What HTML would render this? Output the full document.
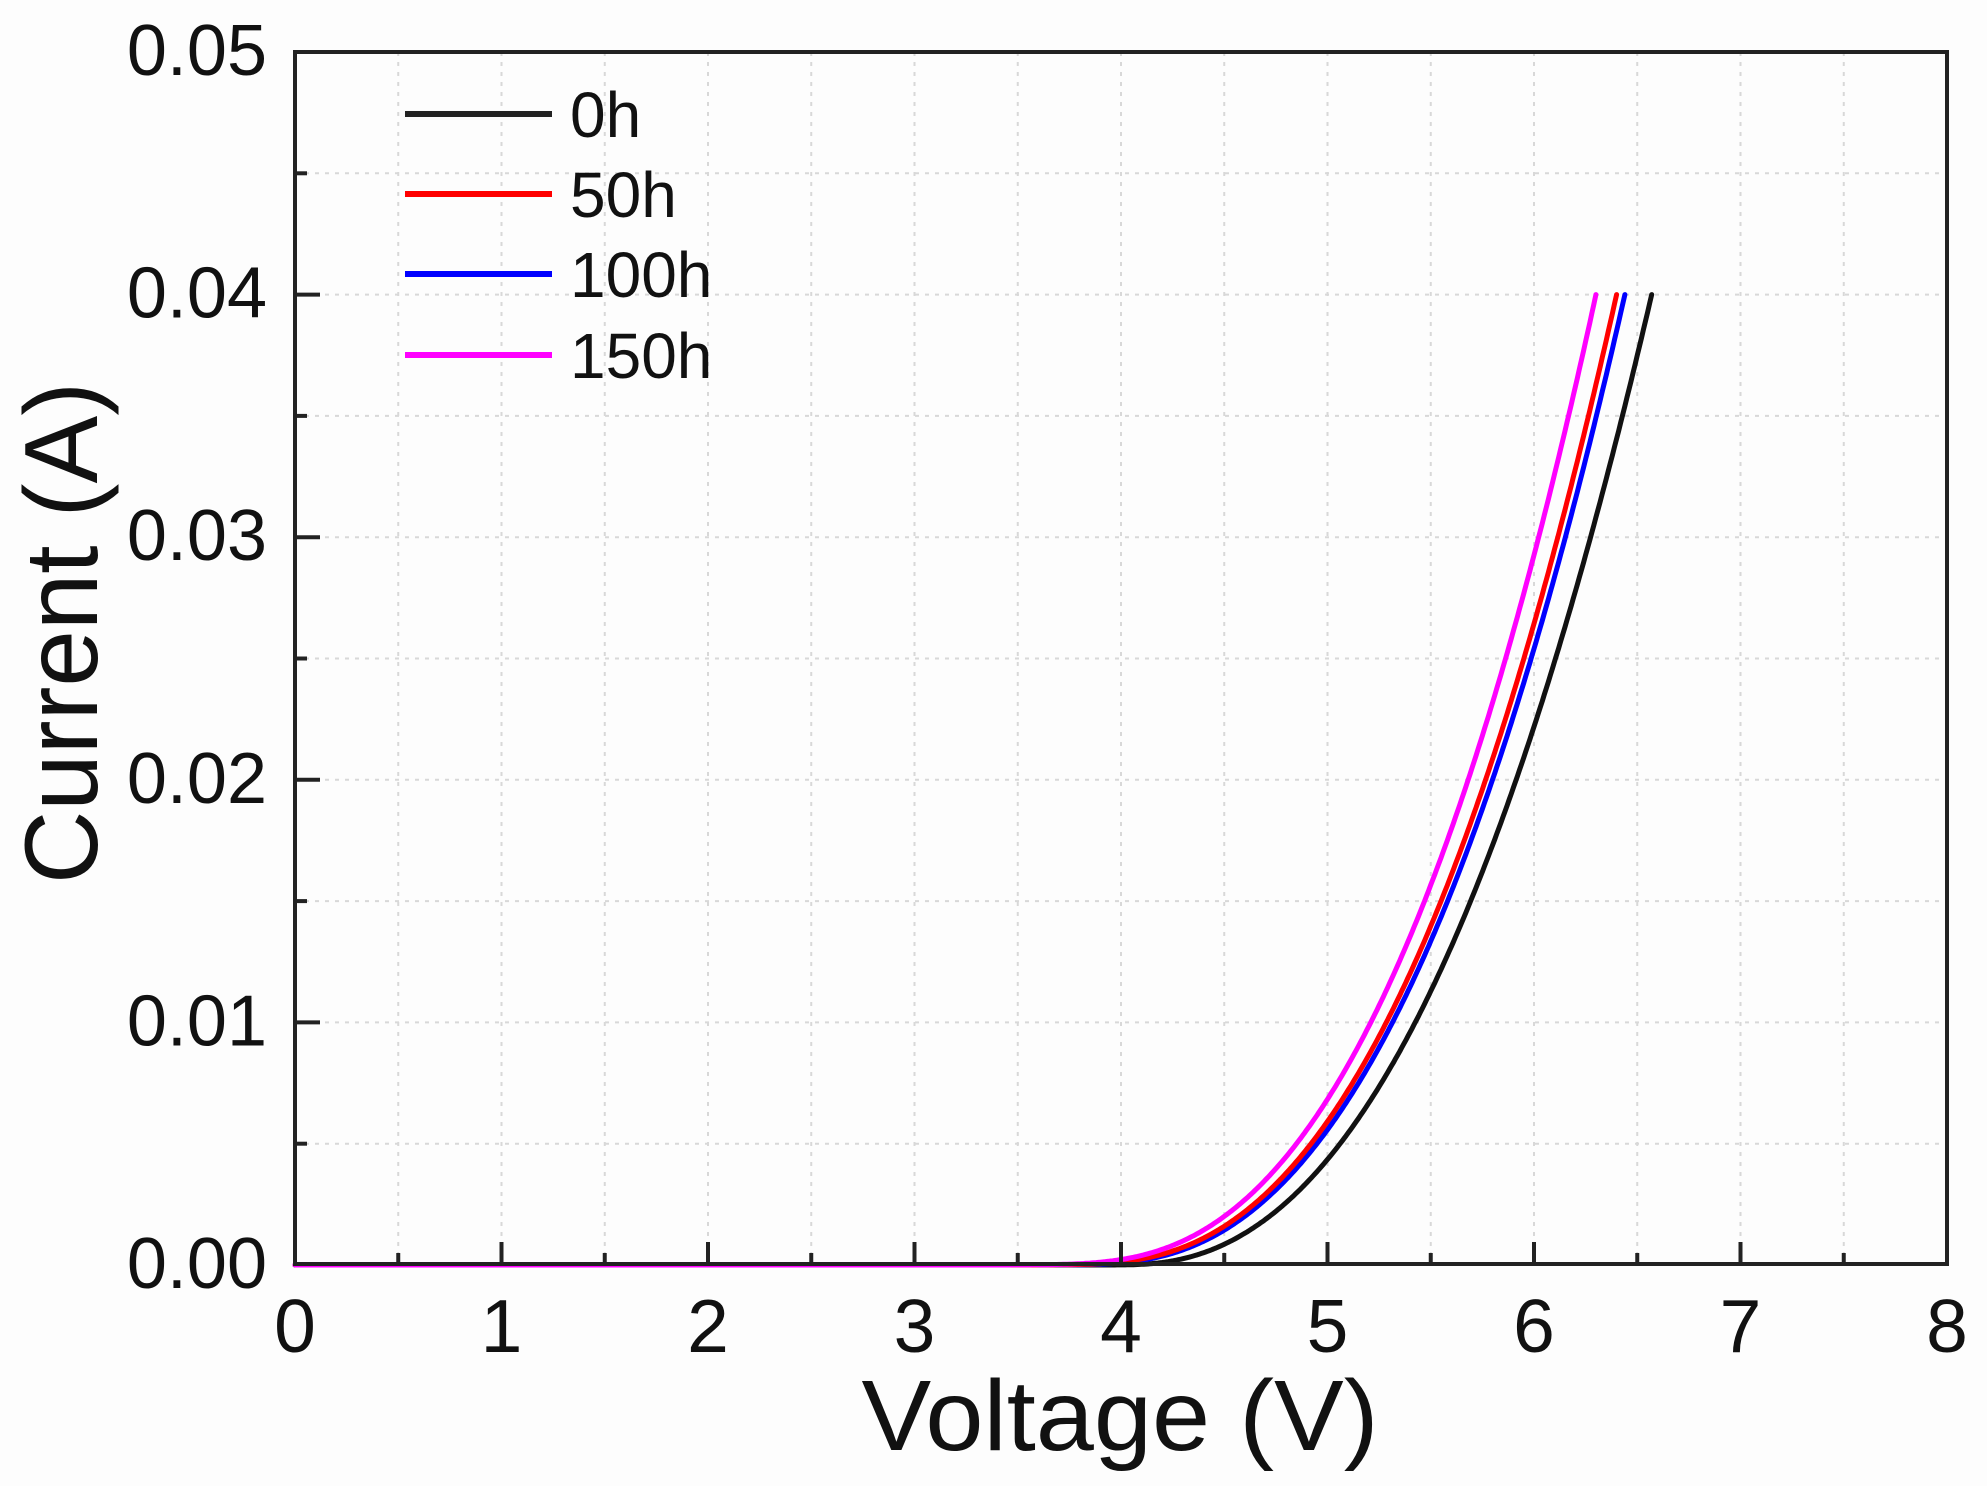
<!DOCTYPE html>
<html><head><meta charset="utf-8"><style>
html,body{margin:0;padding:0;background:#fdfdfd;}
svg{display:block;}
text{font-family:"Liberation Sans",sans-serif;fill:#111;}
</style></head><body>
<svg id="s" width="1987" height="1486" viewBox="0 0 1987 1486" xmlns="http://www.w3.org/2000/svg">
<rect width="1987" height="1486" fill="#fdfdfd"/>
<g id="grid" stroke="#d8d8d8" stroke-width="2" stroke-dasharray="4,6"></g>
<g id="curves" fill="none" stroke-width="5" stroke-linejoin="round" stroke-linecap="round"></g>
<g id="ticks" stroke="#222" stroke-width="4"></g>
<rect x="295" y="52" width="1652" height="1212" fill="none" stroke="#222" stroke-width="4"/>
<g id="labels"></g>
<g stroke-width="6">
<line x1="405" y1="114" x2="552" y2="114" stroke="#222"/>
<line x1="405" y1="194" x2="552" y2="194" stroke="#ff0000"/>
<line x1="405" y1="274" x2="552" y2="274" stroke="#0000ff"/>
<line x1="405" y1="355" x2="552" y2="355" stroke="#ff00ff"/>
</g>
<g font-size="64">
<text x="570" y="137">0h</text>
<text x="570" y="217">50h</text>
<text x="570" y="297">100h</text>
<text x="570" y="378">150h</text>
</g>
<text x="1120" y="1450" font-size="100" text-anchor="middle" textLength="517" lengthAdjust="spacingAndGlyphs">Voltage (V)</text>
<text transform="translate(97,633) rotate(-90)" x="0" y="0" font-size="104" text-anchor="middle" textLength="502" lengthAdjust="spacingAndGlyphs">Current (A)</text>
</svg>
<script>
var L=295,R=1947,T=52,B=1265;
function X(v){return L+v*(R-L)/8;}
function Y(i){return B-i*(B-T)/0.05;}
var ns="http://www.w3.org/2000/svg";
function el(p,t,a){var e=document.createElementNS(ns,t);for(var k in a)e.setAttribute(k,a[k]);document.getElementById(p).appendChild(e);return e;}
for(var k=1;k<16;k++){var x=X(k*0.5);el("grid","line",{x1:x,y1:T,x2:x,y2:B});}
for(var k=1;k<10;k++){var y=Y(k*0.005);el("grid","line",{x1:L,y1:y,x2:R,y2:y});}
for(var k=1;k<16;k++){var x=X(k*0.5),len=(k%2==0)?23:12;el("ticks","line",{x1:x,y1:B,x2:x,y2:B-len});}
for(var k=1;k<10;k++){var y=Y(k*0.005),len=(k%2==0)?25:12;el("ticks","line",{x1:L,y1:y,x2:L+len,y2:y});}
for(var k=0;k<=8;k++){var t=el("labels","text",{x:X(k),y:1352,"font-size":75,"text-anchor":"middle"});t.textContent=k;}
for(var k=0;k<=5;k++){var t=el("labels","text",{x:267,y:Y(k*0.01)+23,"font-size":72,"text-anchor":"end"});t.textContent="0.0"+k;}
function sp(x,s){return x/s>30?x:s*Math.log(1+Math.exp(x/s));}
function curve(V0,n,Ve,s,col){
  var den=Math.pow(sp(Ve-V0,s),n);
  var d="";
  for(var v=0;v<=Ve+1e-9;v+=0.01){
    var i=0.04*Math.pow(sp(v-V0,s),n)/den;
    d+=(d?" L":"M")+X(v).toFixed(1)+","+Y(i).toFixed(1);
  }
  el("curves","path",{d:d,stroke:col});
}
curve(4.0,2.35,6.57,0.07,"#111");
curve(3.82,2.47,6.44,0.15,"#0000ff");
curve(3.78,2.5,6.40,0.17,"#ff0000");
curve(3.7,2.55,6.30,0.2,"#ff00ff");
</script>
</body></html>
